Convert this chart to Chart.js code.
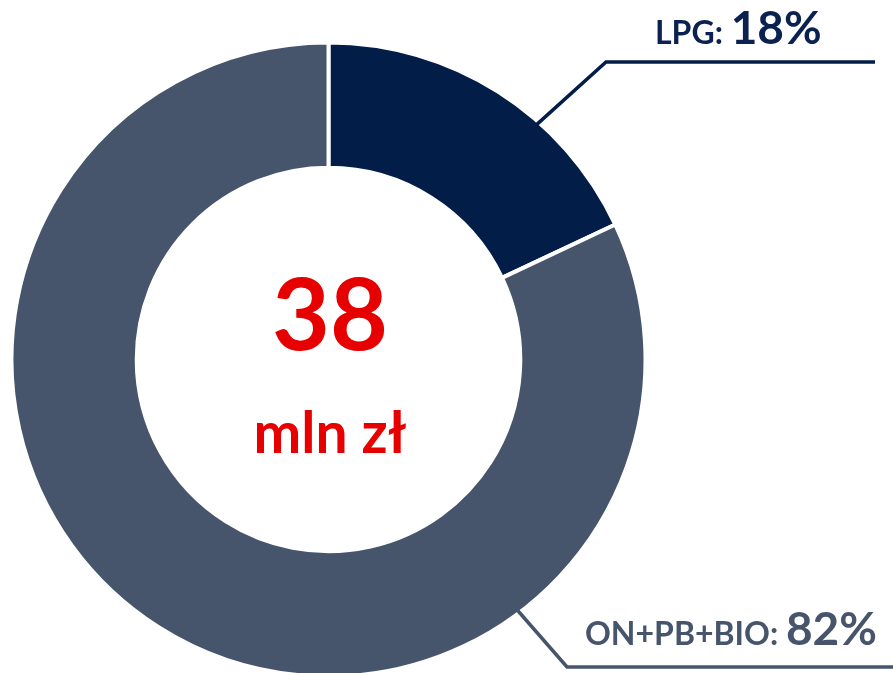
<!DOCTYPE html>
<html>
<head>
<meta charset="utf-8">
<script src="https://cdn.jsdelivr.net/npm/chart.js@4"></script>
<style>
  html, body { margin: 0; padding: 0; background: #fff; }
  #wrap { width: 893px; height: 673px; position: relative; }
</style>
</head>
<body>
<div id="wrap"><canvas id="donut"></canvas></div>
<script>
// dane z wykresu
const categories = ['LPG', 'ON+PB+BIO'];
const shares = [18, 82];
const colors = ['#031D49', '#46556C'];
const totalValue = '38';
const totalUnit = 'mln zł';

// etykiety z liniami odniesienia
const calloutPlugin = {
  id: 'callouts',
  afterDraw(chart) {
    const ctx = chart.ctx;
    const arc = chart.getDatasetMeta(0).data[0];
    const cx = arc.x, cy = arc.y, r = arc.outerRadius;

    // srodek: suma
    ctx.save();
    ctx.fillStyle = '#E60000';
    ctx.textAlign = 'center';
    ctx.textBaseline = 'alphabetic';
    ctx.font = 'bold 100px Lato';
    ctx.fillText(totalValue, 330, 350);
    ctx.font = 'bold 57px Lato';
    ctx.fillText(totalUnit, 330, 453);
    ctx.restore();

    const callouts = [
      { i: 0, ang: 41.5, rr: r - 5, elbow: [606, 62], end: 875, tx: 655, ty: 44 },
      { i: 1, ang: 143, rr: r - 3, elbow: [567, 667], end: 893, tx: 585, ty: 645 }
    ];
    callouts.forEach(c => {
      const a = c.ang * Math.PI / 180;
      const sx = cx + c.rr * Math.sin(a);
      const sy = cy - c.rr * Math.cos(a);
      ctx.save();
      ctx.strokeStyle = colors[c.i];
      ctx.lineWidth = 3.5;
      ctx.beginPath();
      ctx.moveTo(sx, sy);
      ctx.lineTo(c.elbow[0], c.elbow[1]);
      ctx.lineTo(c.end, c.elbow[1]);
      ctx.stroke();

      ctx.fillStyle = c.i === 0 ? '#0B2150' : '#46556C';
      ctx.textAlign = 'left';
      ctx.textBaseline = 'alphabetic';
      ctx.font = 'bold 32px Lato';
      const lbl = categories[c.i] + ': ';
      ctx.fillText(lbl, c.tx, c.ty);
      const w = ctx.measureText(lbl).width;
      ctx.font = 'bold 46px Lato';
      ctx.fillText(shares[c.i] + '%', c.tx + w, c.ty);
      ctx.restore();
    });
  }
};

new Chart(document.getElementById('donut'), {
  type: 'doughnut',
  data: {
    labels: categories,
    datasets: [{
      data: shares,
      backgroundColor: colors,
      borderColor: '#ffffff',
      borderWidth: 4,
      hoverOffset: 0
    }]
  },
  options: {
    responsive: true,
    maintainAspectRatio: false,
    animation: false,
    radius: 317,
    cutout: '60.5%',
    layout: {
      padding: { left: 20, top: 50, right: 256, bottom: 4 }
    },
    plugins: {
      legend: { display: false },
      tooltip: { enabled: false }
    }
  },
  plugins: [calloutPlugin]
});
</script>
</body>
</html>
